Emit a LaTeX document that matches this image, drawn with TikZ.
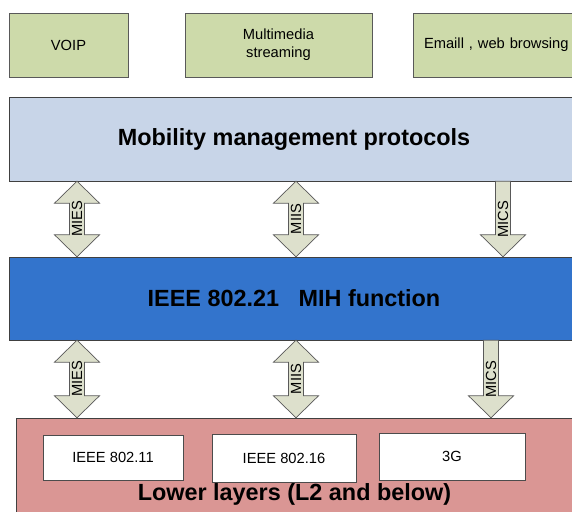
\documentclass[tikz,border=0pt]{standalone}
\usepackage{fontspec}
\setmainfont{Liberation Sans}
\usepackage{xcolor}
\usetikzlibrary{calc}
\definecolor{appgreen}{RGB}{205,218,170}
\definecolor{mobblue}{RGB}{200,213,232}
\definecolor{mihblue}{RGB}{51,116,204}
\definecolor{lowred}{RGB}{218,150,148}
\definecolor{arrfill}{RGB}{221,224,204}
% #1 upper node, #2 lower node, #3 column, #4 label
\newcommand{\dblarr}[4]{%
  \coordinate (t) at (#1.south -| #3);
  \coordinate (b) at (#2.north -| #3);
  \draw[blk] (t) -- ++(22.5,22) -- ++(-15,0) -- ($(b)+(7.5,-22)$) -- ++(15,0) -- (b)
    -- ++(-22.5,-22) -- ++(15,0) -- ($(t)+(-7.5,22)$) -- ++(-15,0) -- cycle;
  \node[lbl] (#4#2) at ($(t)!0.5!(b)$) {#4};}
\newcommand{\sglarr}[4]{%
  \coordinate (t) at (#1.south -| #3);
  \coordinate (b) at (#2.north -| #3);
  \draw[blk] ($(t)+(7.5,0)$) -- ($(b)+(7.5,-22)$) -- ++(15,0) -- (b)
    -- ++(-22.5,-22) -- ++(15,0) -- ($(t)+(-7.5,0)$) -- cycle;
  \node[lbl] (#4#2) at ($(t)!0.5!(b)$) {#4};}

\begin{document}
\begin{tikzpicture}[x=1pt, y=-1pt,
  app/.style={draw=black!65, fill=appgreen, minimum height=64, inner sep=0,
              font=\fontsize{14.7}{18}\selectfont, align=center},
  layer/.style={draw=black!75, minimum width=570, inner sep=0,
                font=\fontsize{23.4}{28}\selectfont\bfseries},
  tech/.style={draw=black!70, fill=white, inner sep=0,
               font=\fontsize{14.7}{18}\selectfont},
  blk/.style={draw=black!65, fill=arrfill, line width=0.7pt, line join=miter},
  lbl/.style={rotate=90, inner sep=0, font=\fontsize{14.7}{17}\selectfont},
]
\useasboundingbox (0,0) rectangle (572,511);
\fill[white] (0,0) rectangle (572,511);

% Top: applications
\node[app, minimum width=119] (voip)  at (68.5,45)  {VOIP};
\node[app, minimum width=187] (media) at (278.5,45) {Multimedia\\streaming};
\node[app, minimum width=175, inner xsep=11, text width=153, align=left] (mail)
  at (500.5,45) {Emaill , web browsing};

% Layers
\node[layer, fill=mobblue, minimum height=84] (mob) at (294,139) {Mobility management protocols};
\node[layer, fill=mihblue, minimum height=83] (mih) at (294,298.5) {IEEE 802.21\ \ \ MIH function};
\node[layer, fill=lowred, minimum width=564, minimum height=112] (low) at (298,474) {};

% Bottom: link technologies
\node[tech, minimum width=140, minimum height=45] (l11) at (113,457.5) {IEEE 802.11};
\node[tech, minimum width=144, minimum height=48] (l16) at (284,458)   {IEEE 802.16};
\node[tech, minimum width=146, minimum height=47] (g3)  at (452,456.5) {3G};
\node[font=\fontsize{23.4}{28}\selectfont\bfseries, inner sep=0] (lowtxt) at (294.5,494.5)
  {Lower layers (L2 and below)};

% Service access arrows
\coordinate (c1) at (77,0);
\coordinate (c2) at (296,0);
\coordinate (c3) at (503,0);
\coordinate (c4) at (491,0);
\dblarr{mob}{mih}{c1}{MIES}
\dblarr{mob}{mih}{c2}{MIIS}
\sglarr{mob}{mih}{c3}{MICS}
\dblarr{mih}{low}{c1}{MIES}
\dblarr{mih}{low}{c2}{MIIS}
\sglarr{mih}{low}{c4}{MICS}
\end{tikzpicture}
\end{document}
